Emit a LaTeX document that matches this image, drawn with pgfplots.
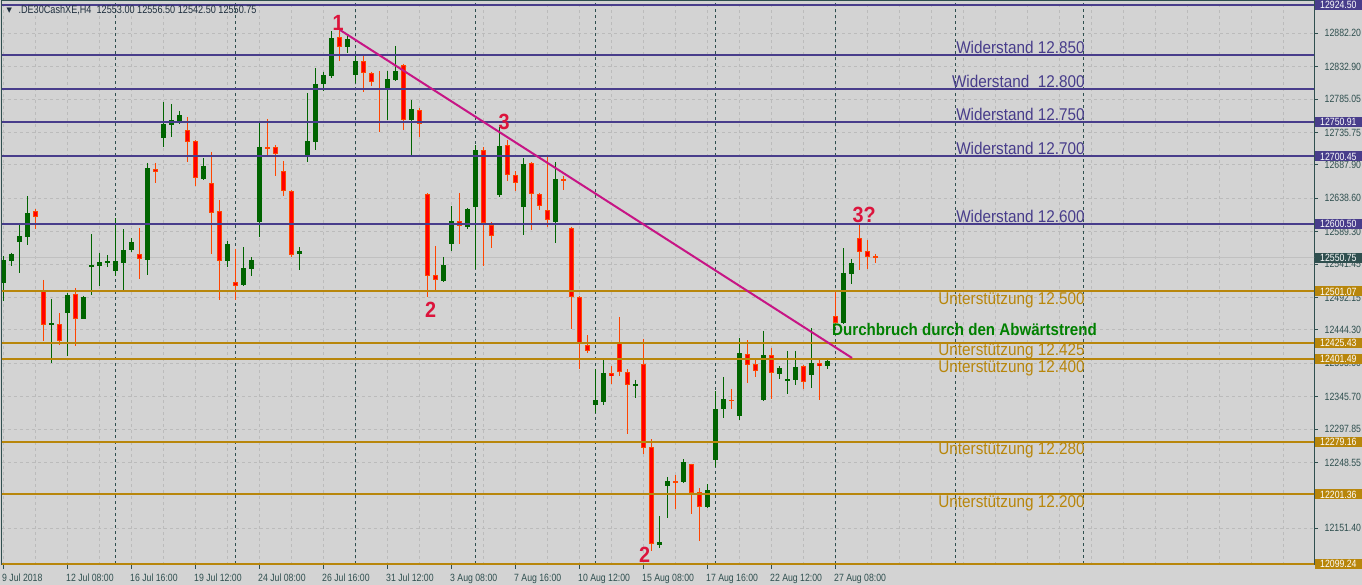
\documentclass[border=0pt]{standalone}
\usepackage{pgfplots}
\usepackage{pgfplotstable}
\pgfplotsset{compat=1.18}
\usepackage{fontspec}
\setmainfont{Liberation Sans}
\newfontfamily\tickfamily{Liberation Sans}[FakeStretch=0.83]
\newfontfamily\labfamily{Liberation Sans}[FakeStretch=0.9]
\newfontfamily\djv{DejaVu Sans}
\newcommand\tickfont{\tickfamily\fontsize{10.5}{12}\selectfont}
\newcommand\hdfont{\tickfamily\fontsize{11}{12}\selectfont}
\newcommand\labfont{\labfamily\fontsize{17}{20}\selectfont}
\newcommand\bigfont{\labfamily\bfseries\fontsize{22}{26}\selectfont}
\newcommand\brfont{\labfamily\bfseries\fontsize{16.8}{20}\selectfont}

\definecolor{bgc}{HTML}{D3D3D3}
\definecolor{gridc}{HTML}{BBBBBB}
\definecolor{axc}{HTML}{2F4F4F}
\definecolor{bidc}{HTML}{C0C0C0}
\definecolor{bullc}{HTML}{006400}
\definecolor{bearf}{HTML}{FF0000}
\definecolor{bearb}{HTML}{FF4500}
\definecolor{resc}{HTML}{483D8B}
\definecolor{supc}{HTML}{B8860B}
\definecolor{trc}{HTML}{C71585}
\definecolor{mkc}{HTML}{DC143C}
\definecolor{brc}{HTML}{008000}
\definecolor{hdc}{HTML}{1F2F3F}
\definecolor{bidbox}{HTML}{2F4F4F}

\pgfplotstableread{
i O H L C
0 12514.0 12553.4 12487.5 12547.5
1 12546.5 12558.3 12538.7 12556.4
2 12574.1 12601.7 12528.8 12583.0
3 12581.9 12642.0 12570.1 12617.4
6 12452.0 12490.0 12395.0 12454.1
8 12469.7 12498.4 12405.8 12495.9
10 12460.9 12494.4 12460.0 12493.4
11 12537.6 12585.9 12496.3 12539.7
12 12538.7 12558.3 12509.2 12544.6
13 12543.6 12554.5 12537.6 12546.5
14 12531.7 12609.5 12523.9 12546.1
15 12543.6 12592.9 12503.2 12562.3
16 12562.3 12580.0 12559.4 12574.1
18 12547.5 12690.8 12525.8 12683.4
20 12728.1 12780.8 12714.8 12748.3
21 12747.3 12777.9 12729.6 12754.2
22 12752.3 12767.5 12748.3 12761.6
25 12667.6 12697.7 12666.1 12686.3
28 12546.5 12575.3 12537.6 12571.2
30 12510.9 12566.4 12509.2 12535.7
31 12534.7 12551.5 12524.4 12547.5
32 12603.6 12750.2 12581.9 12714.4
37 12556.0 12566.3 12533.2 12560.8
38 12702.1 12794.1 12692.7 12723.2
39 12722.2 12831.0 12710.4 12807.4
40 12807.4 12825.5 12797.5 12820.7
41 12819.6 12885.6 12816.7 12875.3
43 12862.5 12881.2 12853.6 12873.8
44 12821.1 12849.2 12809.3 12841.3
48 12799.6 12826.6 12754.7 12814.3
49 12813.3 12863.5 12812.5 12826.1
51 12754.7 12783.8 12702.1 12770.0
55 12517.0 12552.0 12515.5 12540.2
56 12571.6 12627.3 12561.3 12605.1
58 12596.7 12624.3 12593.8 12622.8
59 12626.2 12717.3 12534.7 12709.9
62 12643.9 12743.9 12640.5 12715.8
65 12626.2 12698.1 12584.9 12689.3
69 12604.1 12692.2 12573.1 12666.7
74 12333.9 12387.1 12322.1 12340.8
75 12337.9 12399.9 12333.9 12380.3
79 12362.0 12370.4 12344.2 12364.5
82 12126.8 12169.6 12122.8 12131.2
83 12214.3 12227.2 12167.1 12221.3
85 12219.3 12253.7 12218.3 12249.3
88 12182.9 12216.8 12182.0 12208.0
89 12252.7 12353.7 12242.4 12327.6
90 12327.6 12374.8 12314.3 12342.3
92 12317.7 12432.4 12311.3 12410.2
95 12340.8 12442.7 12339.5 12407.3
97 12379.7 12391.0 12372.3 12388.1
98 12369.3 12413.2 12350.1 12371.4
99 12370.4 12413.2 12363.0 12389.6
101 12378.2 12447.1 12358.6 12395.5
103 12391.5 12401.4 12386.6 12398.0
105 12455.0 12565.2 12453.0 12528.3
106 12527.3 12549.0 12512.5 12543.1
}\bull

\pgfplotstableread{
i O H L C
4 12619.4 12622.4 12593.8 12611.5
5 12501.3 12518.0 12427.5 12452.0
7 12453.0 12468.8 12422.5 12427.5
9 12497.3 12506.2 12420.6 12460.9
17 12556.4 12594.8 12519.9 12548.6
19 12681.9 12690.8 12661.7 12677.9
23 12739.0 12758.7 12692.7 12722.2
24 12722.8 12724.7 12657.2 12668.2
26 12660.8 12707.0 12557.1 12617.4
27 12619.4 12636.1 12488.5 12546.8
29 12514.6 12564.2 12488.0 12509.9
33 12714.4 12755.7 12702.6 12711.9
34 12714.4 12716.9 12672.0 12704.5
35 12678.5 12693.7 12642.5 12649.0
36 12649.0 12650.9 12552.4 12555.4
42 12876.3 12887.1 12841.8 12862.5
45 12840.9 12849.2 12796.0 12823.2
46 12823.2 12825.5 12804.4 12809.9
47 12801.5 12826.6 12737.0 12799.6
50 12835.0 12836.9 12739.9 12754.7
52 12768.6 12771.5 12729.6 12747.9
53 12645.0 12646.0 12493.4 12523.5
54 12525.0 12568.2 12503.2 12518.5
57 12604.7 12646.5 12571.6 12597.3
60 12709.5 12714.4 12538.7 12601.7
61 12599.7 12603.6 12565.7 12583.4
63 12716.9 12724.7 12664.2 12672.6
64 12672.6 12678.5 12649.8 12660.8
66 12690.3 12691.8 12592.3 12644.5
67 12644.5 12646.5 12621.8 12626.8
68 12620.9 12700.1 12596.7 12606.2
70 12666.7 12672.0 12650.9 12665.6
71 12594.3 12596.7 12446.1 12492.5
72 12492.5 12494.4 12387.1 12423.1
73 12421.6 12436.4 12410.7 12413.6
76 12380.3 12391.0 12364.9 12376.7
77 12425.0 12463.4 12376.7 12382.6
78 12381.7 12386.2 12291.1 12362.5
80 12394.0 12431.3 12261.6 12270.4
81 12271.0 12282.8 12118.3 12127.8
84 12221.3 12230.1 12180.4 12218.7
86 12245.9 12247.0 12173.0 12204.0
87 12204.6 12210.9 12133.1 12183.3
91 12340.8 12357.1 12327.1 12339.8
93 12408.8 12429.4 12366.4 12393.0
94 12394.0 12400.3 12375.2 12384.1
96 12406.8 12417.6 12342.8 12380.3
100 12391.0 12392.0 12357.5 12367.9
102 12395.0 12399.9 12340.8 12391.5
104 12464.4 12500.3 12450.1 12455.0
107 12580.0 12599.7 12533.2 12559.8
108 12560.4 12577.1 12534.7 12552.4
109 12553.0 12556.5 12542.5 12550.75
}\bear

\begin{document}
\begin{tikzpicture}
\useasboundingbox (0,-20pt) rectangle (1362pt,565pt);
\fill[bgc] (0,-20pt) rectangle (1362pt,565pt);
\begin{axis}[
  at={(2pt,0pt)}, anchor=south west,
  scale only axis, width=1312pt, height=564pt,
  xmin=-0.1625, xmax=163.8375, ymin=12097.23, ymax=12929.92,
  clip mode=individual,
  axis line style={draw=axc, line width=1pt},
  xtick={0,8,...,104},
  xticklabels={9 Jul 2018,12 Jul 08:00,16 Jul 16:00,19 Jul 12:00,24 Jul 08:00,26 Jul 16:00,31 Jul 12:00,3 Aug 08:00,7 Aug 16:00,10 Aug 12:00,15 Aug 08:00,17 Aug 16:00,22 Aug 12:00,27 Aug 08:00},
  minor xtick={0,4,...,160},
  xminorgrids=true, xmajorgrids=false, ymajorgrids=true,
  grid style={draw=gridc, line width=1pt, dash pattern=on 3pt off 3pt},
  minor grid style={draw=gridc, line width=1pt, dash pattern=on 3pt off 3pt},
  ytick={12151.40,12200.70,12248.55,12297.85,12345.70,12395.00,12444.30,12492.15,12541.45,12589.30,12638.60,12687.90,12735.75,12785.05,12832.90,12882.20},
  yticklabels={12151.40,12200.70,12248.55,12297.85,12345.70,12395.00,12444.30,12492.15,12541.45,12589.30,12638.60,12687.90,12735.75,12785.05,12832.90,12882.20},
  xtick pos=bottom, ytick pos=right, yticklabel pos=right,
  tick align=outside, major tick length=4pt, minor tick length=0pt,
  tick style={draw=axc, line width=1pt},
  ticklabel style={font=\tickfont, text=axc},
  xticklabel style={anchor=base west, inner sep=0pt, xshift=-1.3pt, yshift=-12.5pt},
  yticklabel style={anchor=west, inner sep=0pt, xshift=6.5pt},
  candle/.style={draw=none, no markers, forget plot, error bars/y dir=both, error bars/y explicit, error bars/error mark=none},
]
% bid line
\addplot[draw=bidc, line width=1pt, forget plot] coordinates {(-1,12550.75) (170,12550.75)};
% period separators
\pgfplotsinvokeforeach{14,29,44,59,74,89,104,119,135}{
  \addplot[draw=axc, line width=1pt, dash pattern=on 3pt off 3pt, forget plot] coordinates {(#1,12090) (#1,12940)};
}
% wicks
\addplot[candle, error bars/error bar style={draw=bullc, line width=1pt}]
  table[x=i, y=H, y error plus expr=0, y error minus expr=\thisrow{H}-\thisrow{L}] {\bull};
\addplot[candle, error bars/error bar style={draw=bearb, line width=1pt}]
  table[x=i, y=H, y error plus expr=0, y error minus expr=\thisrow{H}-\thisrow{L}] {\bear};
% bodies
\addplot[candle, error bars/error bar style={draw=bullc, line width=5pt}]
  table[x=i, y expr=(\thisrow{O}+\thisrow{C})/2, y error expr={max((\thisrow{C}-\thisrow{O})/2,0.74)}] {\bull};
\addplot[candle, error bars/error bar style={draw=bearb, line width=5pt}]
  table[x=i, y expr=(\thisrow{O}+\thisrow{C})/2, y error expr={max((\thisrow{O}-\thisrow{C})/2,0.74)}] {\bear};
\addplot[candle, error bars/error bar style={draw=bearf, line width=3pt}]
  table[x=i, y expr=(\thisrow{O}+\thisrow{C})/2, y error expr={max((\thisrow{O}-\thisrow{C})/2-1.48,0)}] {\bear};
% resistance lines
\pgfplotsinvokeforeach{12924.50,12850,12800,12750.91,12700.45,12600.50}{
  \addplot[draw=resc, line width=2pt, forget plot] coordinates {(-1,#1) (170,#1)};
}
% support lines
\pgfplotsinvokeforeach{12501.07,12425.43,12401.49,12279.16,12201.36,12099.24}{
  \addplot[draw=supc, line width=2pt, forget plot] coordinates {(-1,#1) (170,#1)};
}
% trend line
\addplot[draw=trc, line width=2pt, forget plot] coordinates {(42.09,12887.1) (106.09,12402.9)};

% labels
\node[anchor=base east, inner sep=0pt, font=\labfont, text=resc] at (axis cs:135.2,12852.3) {Widerstand 12.850};
\node[anchor=base east, inner sep=0pt, font=\labfont, text=resc] at (axis cs:135.2,12802.3) {Widerstand\ \ 12.800};
\node[anchor=base east, inner sep=0pt, font=\labfont, text=resc] at (axis cs:135.2,12753.2) {Widerstand 12.750};
\node[anchor=base east, inner sep=0pt, font=\labfont, text=resc] at (axis cs:135.2,12702.7) {Widerstand 12.700};
\node[anchor=base east, inner sep=0pt, font=\labfont, text=resc] at (axis cs:135.2,12602.8) {Widerstand 12.600};
\node[anchor=north east, inner sep=0pt, font=\labfont, text=supc] at (axis cs:135.2,12499.5) {Unterstützung 12.500};
\node[anchor=north east, inner sep=0pt, font=\labfont, text=supc] at (axis cs:135.2,12423.9) {Unterstützung 12.425};
\node[anchor=north east, inner sep=0pt, font=\labfont, text=supc] at (axis cs:135.2,12399.9) {Unterstützung 12.400};
\node[anchor=north east, inner sep=0pt, font=\labfont, text=supc] at (axis cs:135.2,12277.6) {Unterstützung 12.280};
\node[anchor=north east, inner sep=0pt, font=\labfont, text=supc] at (axis cs:135.2,12199.8) {Unterstützung 12.200};
\node[anchor=west, inner sep=0pt, font=\brfont, text=brc] at (axis cs:103.59,12444.2) {Durchbruch durch den Abwärtstrend};
% wave markers
\node[inner sep=0pt, font=\bigfont, text=mkc] at (axis cs:41.84,12898.2) {1};
\node[inner sep=0pt, font=\bigfont, text=mkc] at (axis cs:53.40,12473.7) {2};
\node[inner sep=0pt, font=\bigfont, text=mkc] at (axis cs:62.59,12751.3) {3};
\node[inner sep=0pt, font=\bigfont, text=mkc] at (axis cs:80.15,12112.0) {2};
\node[inner sep=0pt, font=\bigfont, text=mkc] at (axis cs:107.6,12613.5) {3?};
% coordinates for price boxes
\coordinate (r1) at (axis cs:163.8375,12924.50);
\coordinate (r4) at (axis cs:163.8375,12750.91);
\coordinate (r5) at (axis cs:163.8375,12700.45);
\coordinate (r6) at (axis cs:163.8375,12600.50);
\coordinate (bd) at (axis cs:163.8375,12550.75);
\coordinate (s1) at (axis cs:163.8375,12501.07);
\coordinate (s2) at (axis cs:163.8375,12425.43);
\coordinate (s3) at (axis cs:163.8375,12401.49);
\coordinate (s4) at (axis cs:163.8375,12279.16);
\coordinate (s5) at (axis cs:163.8375,12201.36);
\coordinate (s6) at (axis cs:163.8375,12099.24);
\end{axis}
\tikzset{lvlbox/.style={anchor=west, inner xsep=5pt, inner ysep=0pt, minimum height=10pt, text=white, font=\tickfont}}
\node[lvlbox, fill=resc] at ([xshift=1pt]r1) {12924.50};
\node[lvlbox, fill=resc] at ([xshift=1pt]r4) {12750.91};
\node[lvlbox, fill=resc] at ([xshift=1pt]r5) {12700.45};
\node[lvlbox, fill=resc] at ([xshift=1pt]r6) {12600.50};
\node[lvlbox, fill=bidbox] at ([xshift=1pt]bd) {12550.75};
\node[lvlbox, fill=supc] at ([xshift=1pt]s1) {12501.07};
\node[lvlbox, fill=supc] at ([xshift=1pt]s2) {12425.43};
\node[lvlbox, fill=supc] at ([xshift=1pt]s3) {12401.49};
\node[lvlbox, fill=supc] at ([xshift=1pt]s4) {12279.16};
\node[lvlbox, fill=supc] at ([xshift=1pt]s5) {12201.36};
\node[lvlbox, fill=supc] at ([xshift=1pt]s6) {12099.24};
% header
\node[inner sep=0pt, font=\djv\fontsize{7}{8}\selectfont, text=hdc] at (9.2pt,554.7pt) {▼};
\node[anchor=base west, inner sep=0pt, font=\hdfont, text=hdc] at (18.3pt,551.2pt) {.DE30CashXE,H4\ \ 12553.00 12556.50 12542.50 12550.75};
\end{tikzpicture}
\end{document}
